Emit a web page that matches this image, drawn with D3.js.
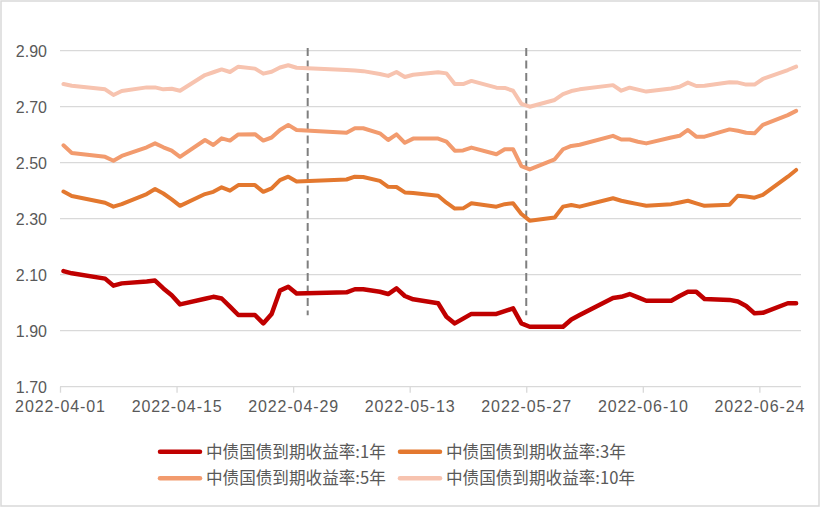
<!DOCTYPE html>
<html>
<head>
<meta charset="utf-8">
<script src="https://cdn.jsdelivr.net/npm/d3@7"></script>
<style>
  body { margin: 0; background: #fff; }
  svg text { font-family: "Liberation Sans", Arial, sans-serif; fill: #595959; }
  .legend text { font-family: "Noto Sans CJK SC", sans-serif; }
</style>
</head>
<body>
<script>
// trading days (incl. make-up working days)
var dates = [
  "2022-04-01","2022-04-02","2022-04-06","2022-04-07","2022-04-08",
  "2022-04-11","2022-04-12","2022-04-13","2022-04-14","2022-04-15",
  "2022-04-18","2022-04-19","2022-04-20","2022-04-21","2022-04-22",
  "2022-04-24","2022-04-25","2022-04-26","2022-04-27","2022-04-28","2022-04-29",
  "2022-05-05","2022-05-06","2022-05-07",
  "2022-05-09","2022-05-10","2022-05-11","2022-05-12","2022-05-13",
  "2022-05-16","2022-05-17","2022-05-18","2022-05-19","2022-05-20",
  "2022-05-23","2022-05-24","2022-05-25","2022-05-26","2022-05-27",
  "2022-05-30","2022-05-31","2022-06-01","2022-06-02",
  "2022-06-06","2022-06-07","2022-06-08","2022-06-09","2022-06-10",
  "2022-06-13","2022-06-14","2022-06-15","2022-06-16","2022-06-17",
  "2022-06-20","2022-06-21","2022-06-22","2022-06-23","2022-06-24",
  "2022-06-27","2022-06-28"
];

var yield1 = [
  2.113,2.105,2.086,2.061,2.069,
  2.076,2.079,2.051,2.027,1.994,
  2.014,2.021,2.015,1.986,1.956,
  1.956,1.926,1.960,2.043,2.057,2.033,
  2.037,2.048,2.048,
  2.039,2.031,2.051,2.024,2.012,
  1.998,1.950,1.926,1.943,1.960,
  1.960,1.970,1.980,1.926,1.914,
  1.914,1.914,1.940,1.956,
  2.017,2.021,2.031,2.019,2.007,
  2.007,2.024,2.039,2.039,2.013,
  2.010,2.004,1.988,1.962,1.964,
  1.998,1.998
];

var yield3 = [
  2.397,2.381,2.357,2.343,2.352,
  2.388,2.406,2.390,2.369,2.346,
  2.388,2.396,2.412,2.400,2.420,
  2.420,2.396,2.408,2.438,2.450,2.433,
  2.440,2.450,2.449,
  2.435,2.414,2.413,2.394,2.392,
  2.382,2.357,2.336,2.337,2.355,
  2.343,2.352,2.355,2.317,2.293,
  2.304,2.343,2.349,2.343,
  2.373,2.364,2.358,2.352,2.346,
  2.352,2.358,2.364,2.355,2.346,
  2.350,2.382,2.379,2.375,2.385,
  2.450,2.474
];

var yield5 = [
  2.562,2.535,2.521,2.507,2.524,
  2.555,2.569,2.555,2.543,2.521,
  2.581,2.563,2.587,2.579,2.601,
  2.602,2.579,2.590,2.617,2.635,2.617,
  2.607,2.623,2.623,
  2.605,2.581,2.601,2.571,2.586,
  2.586,2.575,2.543,2.544,2.554,
  2.530,2.548,2.548,2.488,2.476,
  2.512,2.548,2.560,2.564,
  2.596,2.583,2.583,2.575,2.569,
  2.590,2.596,2.617,2.593,2.593,
  2.619,2.614,2.607,2.605,2.635,
  2.670,2.685
];

var yield10 = [
  2.781,2.775,2.762,2.742,2.756,
  2.769,2.769,2.762,2.764,2.757,
  2.813,2.823,2.833,2.824,2.843,
  2.836,2.818,2.825,2.840,2.848,2.839,
  2.831,2.829,2.827,
  2.817,2.810,2.824,2.806,2.814,
  2.823,2.819,2.781,2.781,2.792,
  2.768,2.767,2.757,2.710,2.700,
  2.724,2.745,2.756,2.762,
  2.777,2.757,2.768,2.761,2.754,
  2.765,2.771,2.786,2.774,2.775,
  2.787,2.786,2.779,2.779,2.799,
  2.831,2.843
];

var seriesNames = ["中债国债到期收益率:1年", "中债国债到期收益率:3年",
                   "中债国债到期收益率:5年", "中债国债到期收益率:10年"];
var seriesColors = ["#C00000", "#E3782F", "#F29B6E", "#F7C3AF"];
var xTickLabels = ["2022-04-01","2022-04-15","2022-04-29","2022-05-13",
                   "2022-05-27","2022-06-10","2022-06-24"];
var yTickValues = [1.70, 1.90, 2.10, 2.30, 2.50, 2.70, 2.90];
var markerDates = ["2022-04-30 18", "2022-05-27 00"];

var width = 824, height = 509;
var parse = d3.timeParse("%Y-%m-%d");
var parseHour = d3.timeParse("%Y-%m-%d %H");

var svg = d3.select("body").append("svg")
  .attr("width", width)
  .attr("height", height);

// outer frame
svg.append("rect")
  .attr("x", 1).attr("y", 1)
  .attr("width", 818).attr("height", 505)
  .attr("fill", "#fff")
  .attr("stroke", "#d9d9d9")
  .attr("stroke-width", 1.5);

var x = d3.scaleTime()
  .domain([parse("2022-04-01"), parse("2022-06-29")])
  .range([60, 801]);

var y = d3.scaleLinear()
  .domain([1.70, 2.90])
  .range([386.7, 50.7]);

// horizontal grid
svg.append("g")
  .selectAll("line")
  .data(yTickValues)
  .enter()
  .append("line")
  .attr("x1", 60).attr("x2", 801)
  .attr("y1", function (d) { return y(d); })
  .attr("y2", function (d) { return y(d); })
  .attr("stroke", "#d9d9d9")
  .attr("stroke-width", 1.3);

// y labels
svg.append("g")
  .selectAll("text")
  .data(yTickValues)
  .enter()
  .append("text")
  .attr("x", 47)
  .attr("y", function (d) { return y(d) + 6; })
  .attr("text-anchor", "end")
  .style("font-size", "16px")
  .text(function (d) { return d3.format(".2f")(d); });

// x axis ticks + labels
var xAxis = d3.axisBottom(x)
  .tickValues(xTickLabels.map(parse))
  .tickFormat(d3.timeFormat("%Y-%m-%d"))
  .tickSize(6)
  .tickPadding(8);

var gx = svg.append("g")
  .attr("transform", "translate(0," + y(1.70) + ")")
  .call(xAxis);
gx.select(".domain").remove();
gx.selectAll(".tick line").attr("stroke", "#d9d9d9").attr("stroke-width", 1.3);
gx.selectAll(".tick text")
  .style("font-size", "16px")
  .style("letter-spacing", "0.9px")
  .attr("fill", "#595959");

// dashed markers
svg.append("g")
  .selectAll("line")
  .data(markerDates)
  .enter()
  .append("line")
  .attr("x1", function (d) { return x(parseHour(d)); })
  .attr("x2", function (d) { return x(parseHour(d)); })
  .attr("y1", y(2.91))
  .attr("y2", y(1.955))
  .attr("stroke", "#7f7f7f")
  .attr("stroke-width", 2)
  .attr("stroke-dasharray", "8,4.5");

// data lines (points sit a little right of the day's tick)
var allSeries = [yield1, yield3, yield5, yield10];
var line = d3.line()
  .x(function (d) { return x(d3.timeHour.offset(parse(d.date), 10)); })
  .y(function (d) { return y(d.value); });

// draw 10y first so 1y ends up on top
for (var k = allSeries.length - 1; k >= 0; k--) {
  var pts = dates.map(function (dt, i) { return { date: dt, value: allSeries[k][i] }; });
  svg.append("path")
    .datum(pts)
    .attr("d", line)
    .attr("fill", "none")
    .attr("stroke", seriesColors[k])
    .attr("stroke-width", k === 0 ? 4.5 : 4)
    .attr("stroke-linejoin", "round")
    .attr("stroke-linecap", "round");
}

// legend
var legendPos = [[160, 451.7], [400, 451.7], [160, 478.3], [400, 478.3]];
var legend = svg.append("g").attr("class", "legend");
seriesNames.forEach(function (name, i) {
  var p = legendPos[i];
  legend.append("line")
    .attr("x1", p[0]).attr("x2", p[0] + 40)
    .attr("y1", p[1]).attr("y2", p[1])
    .attr("stroke", seriesColors[i])
    .attr("stroke-width", 4.5)
    .attr("stroke-linecap", "round");
  legend.append("text")
    .attr("x", p[0] + 46)
    .attr("y", p[1])
    .attr("dy", "0.36em")
    .style("font-size", "16.6px")
    .text(name);
});
</script>
</body>
</html>
